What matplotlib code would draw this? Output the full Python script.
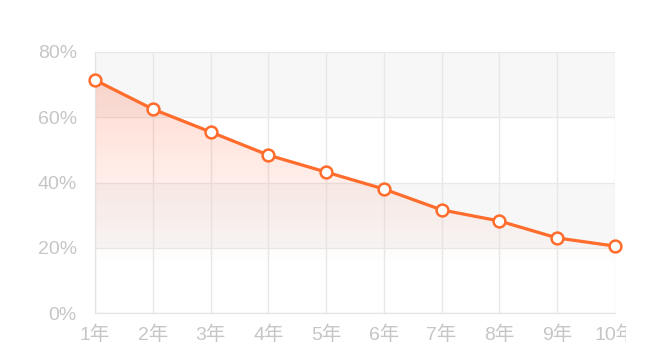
import numpy as np
import matplotlib.pyplot as plt
from matplotlib.patches import Rectangle

plt.rcParams['font.family'] = ['Liberation Sans', 'Noto Sans CJK SC', 'DejaVu Sans']

years = ['1年', '2年', '3年', '4年', '5年', '6年', '7年', '8年', '9年', '10年']
rates = [71.4, 62.5, 55.5, 48.4, 43.2, 38.0, 31.6, 28.2, 23.0, 20.5]
yticks = [0, 20, 40, 60, 80]

orange = '#ff6c2c'
grey_txt = '#c6c6c6'

fig = plt.figure(figsize=(6.5, 3.64), dpi=100)
ax = fig.add_axes([95/650, 1-313/364, 520/650, 261/364])
x = np.arange(len(years))

# alternating background bands
for lo, hi in [(20, 40), (60, 80)]:
    ax.axhspan(lo, hi, color='#f7f7f7', zorder=0, lw=0)

# gradient fill under the line
fill = ax.fill_between(x, rates, 0, color='none', lw=0)
grad = np.linspace(1, 0, 256).reshape(-1, 1)
rgba = np.zeros((256, 1, 4))
rgba[..., 0] = 1.0
rgba[..., 1] = 0.45
rgba[..., 2] = 0.3
rgba[..., 3] = np.clip(grad[:, :1] * 1.25 - 0.25, 0, 1) * 0.26
img = ax.imshow(rgba, extent=[0, len(years) - 1, 0, max(rates)], aspect='auto',
                origin='upper', zorder=1)
img.set_clip_path(fill.get_paths()[0], transform=ax.transData)

ax.plot(x, rates, color=orange, lw=2.3, marker='o', ms=8.5, mfc='white',
        mec=orange, mew=1.8, zorder=3, clip_on=False)

ax.set_xlim(0, len(years) - 1)
ax.set_ylim(0, 80)
ax.set_xticks(x)
ax.set_xticklabels(years)
ax.set_yticks(yticks)
ax.set_yticklabels([f'{v}%' for v in yticks])
ax.grid(True, color='#e8e8e8', lw=1, zorder=0.5)
ax.set_axisbelow(True)
for s in ['top', 'right']:
    ax.spines[s].set_visible(False)
for s in ['left', 'bottom']:
    ax.spines[s].set_color('#e3e3e3')
ax.tick_params(length=0, labelsize=14, labelcolor=grey_txt)
ax.tick_params(axis='y', pad=13)
ax.tick_params(axis='x', pad=9)

# the last label is cut off at the right edge in the original
fig.add_artist(Rectangle((626/650, 0), 24/650, 45/364, transform=fig.transFigure,
                         facecolor='white', edgecolor='none', zorder=5))

fig.savefig('out.png', dpi=100)
